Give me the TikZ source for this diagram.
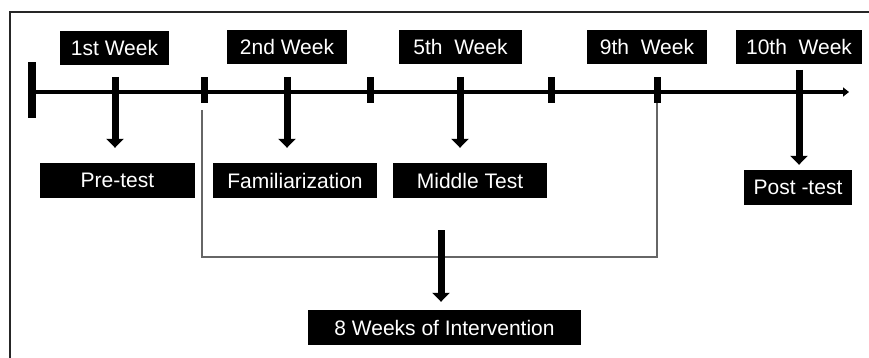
\documentclass[tikz,border=0pt]{standalone}
\usepackage{fontspec}
\setmainfont{Liberation Sans}
\usetikzlibrary{arrows.meta}
\begin{document}
\begin{tikzpicture}[x=1pt,y=-1pt,
  lbl/.style={fill=black,text=white,inner sep=0pt,minimum height=34pt,
    font=\fontsize{21}{24}\selectfont},
  downarrow/.style={line width=7pt,-{Triangle[width=17pt,length=9pt]}},
  tickbox/.style={fill=black},
  brk/.style={draw=black!60,line width=1.3pt}]
\useasboundingbox (0,0) rectangle (869,358);
% frame
\draw[line width=1.5pt,black!85] (869,12) -- (10,12) -- (10,358);
% timeline
\coordinate (tl0) at (30,92);
\coordinate (tl1) at (849,92);
\draw[line width=4pt,-{Triangle[width=9pt,length=6pt]}] (tl0) -- (tl1);
\fill[tickbox] (28,62) rectangle (36,118);
\fill[tickbox] (201,77) rectangle (208,103);
\fill[tickbox] (367,77) rectangle (374,103);
\fill[tickbox] (547.5,77) rectangle (554.5,103);
\fill[tickbox] (653.5,77) rectangle (660.5,103);
% week labels
\node[lbl,minimum width=109pt] (w1) at (114.5,48) {1st Week};
\node[lbl,minimum width=120pt] (w2) at (287,47) {2nd Week};
\node[lbl,minimum width=123pt] (w5) at (460.5,47) {5th~ Week};
\node[lbl,minimum width=120pt] (w9) at (647,47) {9th~ Week};
\node[lbl,minimum width=126pt] (w10) at (799,47) {10th~ Week};
% activity labels
\node[lbl,minimum width=155pt,minimum height=35pt] (pre) at (117.5,180.5) {Pre-test};
\node[lbl,minimum width=164pt,minimum height=35pt] (fam) at (295,180.5) {Familiarization};
\node[lbl,minimum width=154pt,minimum height=35pt] (mid) at (470,180.5) {Middle Test};
\node[lbl,minimum width=108pt,minimum height=35pt] (post) at (798,187.5) {Post -test};
\node[lbl,minimum width=273pt,minimum height=35pt] (int) at (444.5,327.5) {8 Weeks of Intervention};
% arrows
\coordinate (a1) at (115,77);
\coordinate (a2) at (287,77);
\coordinate (a5) at (460,77);
\coordinate (a10) at (799,70);
\draw[downarrow] (a1) -- ([yshift=15pt]a1 |- pre.north);
\draw[downarrow] (a2) -- ([yshift=15pt]a2 |- fam.north);
\draw[downarrow] (a5) -- ([yshift=15pt]a5 |- mid.north);
\draw[downarrow] (a10) -- ([yshift=5pt]a10 |- post.north);
% bracket
\coordinate (bl) at (202,110);
\coordinate (br) at (657,103);
\coordinate (bc) at (441,230);
\draw[brk] (bl) -- (202,257) -- (657,257) -- (br);
\draw[downarrow] (bc) -- ([yshift=8pt]bc |- int.north);
\end{tikzpicture}
\end{document}
